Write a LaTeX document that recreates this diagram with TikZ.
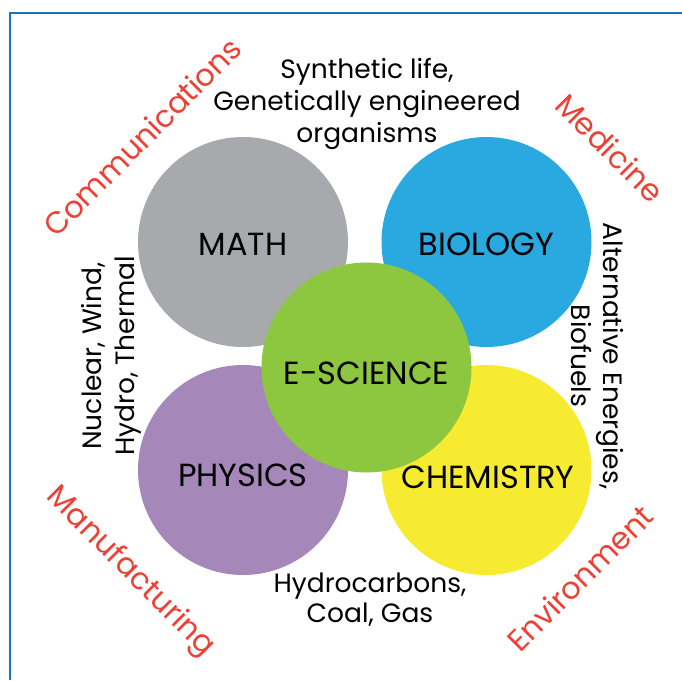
\documentclass[tikz,border=0pt]{standalone}
\usepackage{fontspec}
\setmainfont{Poppins}
\definecolor{framecol}{HTML}{1B75BB}
\definecolor{mathcol}{HTML}{A7A9AC}
\definecolor{biocol}{HTML}{29A9E0}
\definecolor{physcol}{HTML}{A687BA}
\definecolor{chemcol}{HTML}{F6EB31}
\definecolor{escicol}{HTML}{8DC63F}
\definecolor{redlab}{HTML}{EE4136}
\begin{document}
\begin{tikzpicture}[x=1pt,y=-1pt,
  disc/.style={circle,minimum size=210pt,inner sep=0pt},
  disclabel/.style={inner sep=0pt,font=\fontsize{32}{36}\selectfont},
  note/.style={align=center,font=\fontsize{26.5}{32}\selectfont},
  field/.style={text=redlab,font=\fontsize{30.5}{34}\selectfont}]
\useasboundingbox (0,0) rectangle (682,680);
\fill[white] (0,0) rectangle (682,680);
\draw[framecol,line width=2.5pt] (682,13) -- (10,13) -- (10,680);
\node[disc,fill=mathcol] (math) at (243,242) {};
\node[disc,fill=biocol] (bio) at (486.5,242) {};
\node[disc,fill=physcol] (phys) at (243,470) {};
\node[disc,fill=chemcol] (chem) at (486.5,470) {};
\node[disc,fill=escicol] (esci) at (366.5,367.5) {};
\node[disclabel] (mathl) at (243,244) {MATH};
\node[disclabel] (biol) at (486.5,244) {BIOLOGY};
\node[disclabel] (physl) at (243,475) {PHYSICS};
\node[disclabel] (cheml) at (488,477) {CHEMISTRY};
\node[disclabel] (escil) at (366.5,373) {E-SCIENCE};
\node[note] (top) at (367,104) {Synthetic life,\\Genetically engineered\\organisms};
\node[note,font=\fontsize{26.5}{30}\selectfont] (bottom) at (370,600) {Hydrocarbons,\\Coal, Gas};
\node[note,font=\fontsize{26.5}{33}\selectfont,rotate=90] (left) at (111,356) {Nuclear, Wind,\\Hydro, Thermal};
\node[note,rotate=-90] (right) at (597,356) {Alternative Energies,\\Biofuels};
\node[field,rotate=45] (comm) at (142,137) {Communications};
\node[field,rotate=-45] (med) at (610,148) {Medicine};
\node[field,rotate=-45] (manu) at (130,572) {Manufacturing};
\node[field,rotate=45] (env) at (580,578) {Environment};
\end{tikzpicture}
\end{document}
